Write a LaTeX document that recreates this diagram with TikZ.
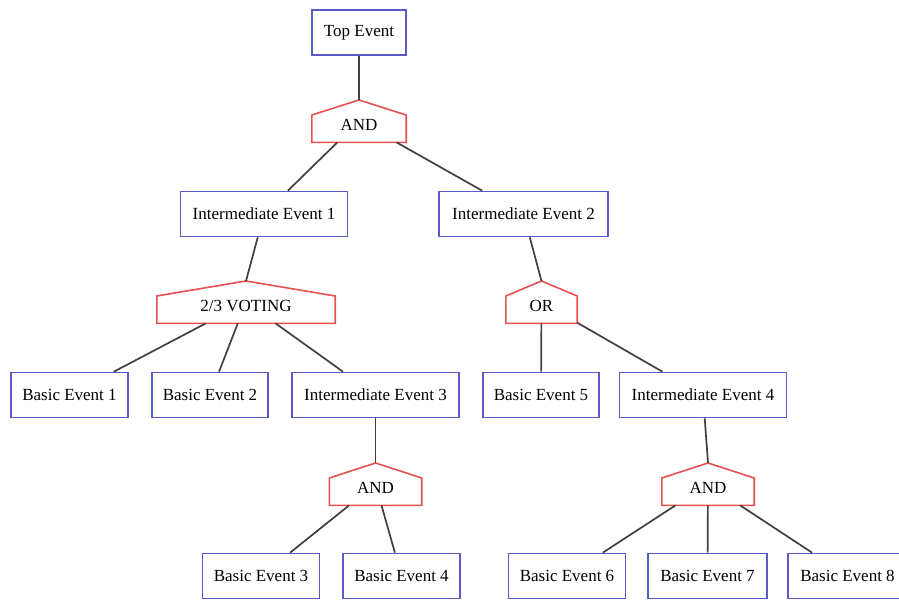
\documentclass[tikz,border=0pt]{standalone}
\usepackage{fontspec}
\setmainfont{Liberation Serif}
\definecolor{boxblue}{RGB}{90,90,200}
\definecolor{gatered}{RGB}{232,80,80}
\definecolor{linegray}{RGB}{70,62,62}
\begin{document}
\begin{tikzpicture}[x=1pt,y=-1pt,
  evbox/.style={draw=boxblue,line width=1.6pt,rectangle,minimum height=45pt,inner sep=0pt,font=\fontsize{17}{20}\selectfont,fill=white},
  gatebox/.style={rectangle,draw=none,inner sep=0pt,text height=30pt,text depth=12pt,anchor=north,font=\fontsize{17}{20}\selectfont},
  gateline/.style={draw=gatered,line width=1.6pt,line join=miter},
  conn/.style={draw=linegray,line width=1.7pt}]
\clip (0,0) rectangle (899,601);
\fill[white] (0,0) rectangle (899,601);
% events
\node[evbox,minimum width=94pt]  (top) at (359,32.5) {Top Event};
\node[evbox,minimum width=167pt] (ie1) at (264,214) {Intermediate Event 1};
\node[evbox,minimum width=169pt] (ie2) at (523.5,214) {Intermediate Event 2};
\node[evbox,minimum width=117pt] (be1) at (69.5,395) {Basic Event 1};
\node[evbox,minimum width=116pt] (be2) at (210,395) {Basic Event 2};
\node[evbox,minimum width=167pt] (ie3) at (375.5,395) {Intermediate Event 3};
\node[evbox,minimum width=116pt] (be5) at (541,395) {Basic Event 5};
\node[evbox,minimum width=167pt] (ie4) at (703,395) {Intermediate Event 4};
\node[evbox,minimum width=117pt] (be3) at (261,576) {Basic Event 3};
\node[evbox,minimum width=117pt] (be4) at (401.5,576) {Basic Event 4};
\node[evbox,minimum width=117pt] (be6) at (567,576) {Basic Event 6};
\node[evbox,minimum width=119pt] (be7) at (707.5,576) {Basic Event 7};
\node[evbox,minimum width=119pt] (be8) at (847.5,576) {Basic Event 8};
% gates
\node[gatebox,minimum width=94pt]  (g1) at (359,100) {AND};
\node[gatebox,minimum width=178pt] (vote) at (246,281) {2/3 VOTING};
\node[gatebox,minimum width=71pt]  (gor) at (541.5,281) {OR};
\node[gatebox,minimum width=92pt]  (g3) at (375.5,463) {AND};
\node[gatebox,minimum width=92pt]  (g4) at (708,463) {AND};
\foreach \g in {g1,vote,gor,g3,g4}{
  \draw[gateline] (\g.south west) -- ([yshift=-15pt]\g.north west) -- (\g.north)
    -- ([yshift=-15pt]\g.north east) -- (\g.south east) -- cycle;
}
% connectors
\draw[conn] (top) -- (g1.north);
\draw[conn] (g1) -- (ie1);
\draw[conn] (g1) -- (ie2);
\draw[conn] (ie1) -- (vote.north);
\draw[conn] (ie2) -- (gor.north);
\draw[conn] (vote) -- (be1);
\draw[conn] (vote) -- (be2);
\draw[conn] (vote) -- (ie3);
\draw[conn] (gor) -- (be5);
\draw[conn] (gor) -- (ie4);
\draw[conn] (ie3) -- (g3.north);
\draw[conn] (ie4) -- (g4.north);
\draw[conn] (g3) -- (be3);
\draw[conn] (g3) -- (be4);
\draw[conn] (g4) -- (be6);
\draw[conn] (g4) -- (be7);
\draw[conn] (g4) -- (be8);
\end{tikzpicture}
\end{document}
